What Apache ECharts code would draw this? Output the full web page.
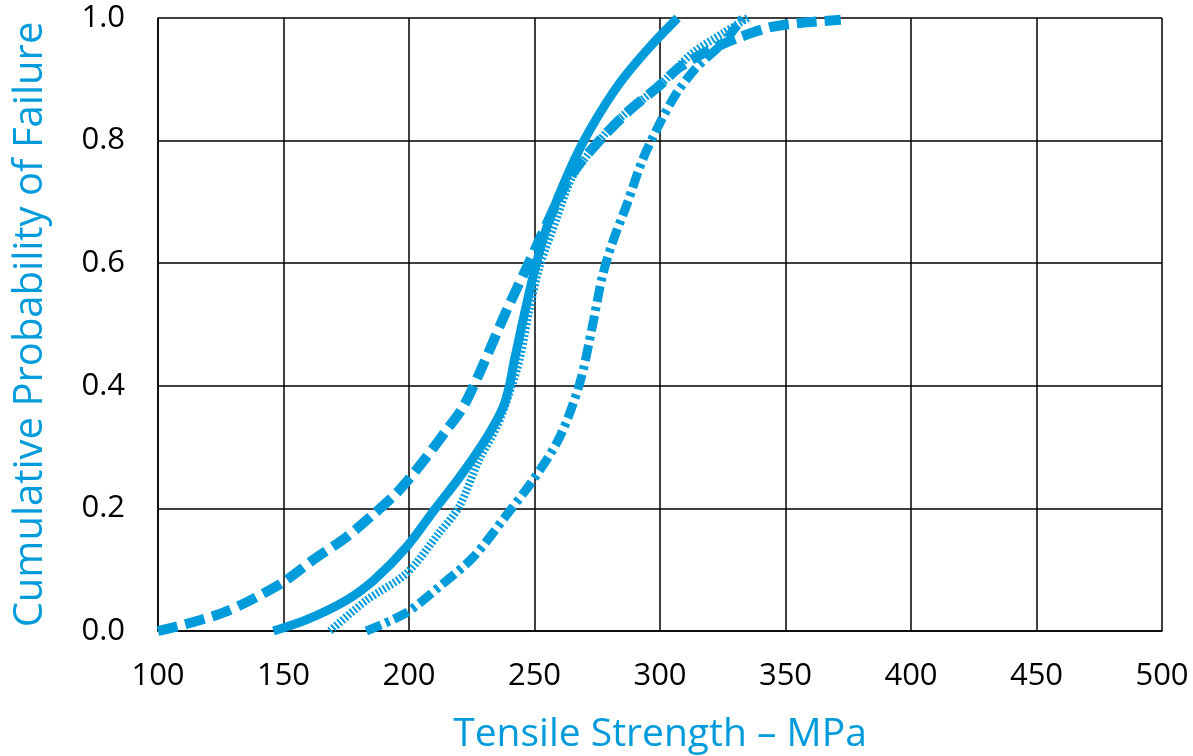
<!DOCTYPE html>
<html>
<head>
<meta charset="utf-8">
<script src="https://cdn.jsdelivr.net/npm/echarts@6/dist/echarts.min.js"></script>
<style>html,body{margin:0;padding:0;background:#fff}#c{width:1193px;height:756px}</style>
</head>
<body>
<div id="c"></div>
<script>
const xTicks = [100,150,200,250,300,350,400,450,500];
const yTicks = [0.0,0.2,0.4,0.6,0.8,1.0];

const solidX = [146,159,175,186,199,210,220,231,237.5,240,242,249.4,255,264,272,284,296,307];
const solidY = [0,0.018,0.05,0.083,0.137,0.197,0.25,0.316,0.365,0.40,0.442,0.578,0.66,0.752,0.817,0.894,0.953,1.0];

const dashedX = [100,112.7,126,136.7,150,161.8,175,185.7,195,200.4,207,215,221.5,228,239,247,255,264,275,288,299,308,320,332,344,356,372];
const dashedY = [0,0.013,0.03,0.05,0.08,0.116,0.153,0.19,0.225,0.25,0.284,0.328,0.365,0.42,0.524,0.594,0.665,0.74,0.796,0.85,0.887,0.92,0.948,0.969,0.985,0.992,0.997];

const dottedX = [168.5,183,199,212,220,228,235,240,244,248,252,259,265,275,285,299,313,325,335];
const dottedY = [0,0.05,0.094,0.16,0.203,0.28,0.333,0.388,0.442,0.524,0.594,0.675,0.74,0.796,0.84,0.887,0.943,0.975,1.0];

const dashDotX = [183,199,212,225.5,239,249.4,260,268,273,277,281,287,293,300,306.7,314.7,325,333];
const dashDotY = [0,0.03,0.072,0.12,0.19,0.246,0.316,0.404,0.496,0.578,0.633,0.698,0.768,0.829,0.878,0.92,0.959,1.0];

const BLUE = '#009bdb';
const zip = (a,b) => a.map((v,i)=>[v,b[i]]);

const chart = echarts.init(document.getElementById('c'));
const font = '"Open Sans", "Noto Sans", sans-serif';
function mk(name, xs, ys, width, type){
  return {name, type:'line', data:zip(xs,ys), smooth:0.3, showSymbol:false,
    lineStyle:{color:BLUE, width, type, cap:'butt'}, z:3};
}
chart.setOption({
  animation:false,
  grid:{left:158, top:18, width:1004, height:613, show:false, outerBoundsMode:'none', containLabel:false},
  xAxis:{type:'value', min:xTicks[0], max:xTicks[xTicks.length-1], interval:50,
    name:'Tensile Strength \u2013 MPa', nameLocation:'middle', nameGap:84,
    nameTextStyle:{color:BLUE, fontSize:39, fontFamily:font},
    axisLine:{show:true, lineStyle:{color:'#000', width:1.5}}, axisTick:{show:false},
    axisLabel:{color:'#000', fontSize:31, fontFamily:font, margin:30},
    splitLine:{show:true, lineStyle:{color:'#000', width:1.5}}},
  yAxis:{type:'value', min:yTicks[0], max:yTicks[yTicks.length-1], interval:0.2,
    name:'Cumulative Probability of Failure', nameLocation:'middle', nameGap:107,
    nameTextStyle:{color:BLUE, fontSize:40, fontFamily:font},
    axisLine:{show:true, lineStyle:{color:'#000', width:1.5}}, axisTick:{show:false},
    axisLabel:{color:'#000', fontSize:31, fontFamily:font, margin:33, formatter:v=>v.toFixed(1)},
    splitLine:{show:true, lineStyle:{color:'#000', width:1.5}}},
  series:[
    mk('dashed', dashedX, dashedY, 10, [20,8]),
    mk('dashdot', dashDotX, dashDotY, 9, [16,5,4,5]),
    mk('dotted', dottedX, dottedY, 8, [2,2]),
    mk('solid', solidX, solidY, 9, 'solid')
  ]
});
</script>
</body>
</html>
